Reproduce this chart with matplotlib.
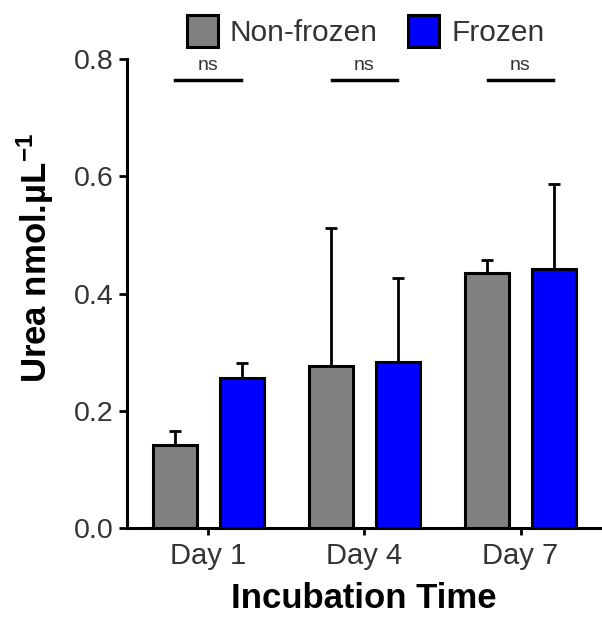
import matplotlib.pyplot as plt
import numpy as np

plt.rcParams['font.family'] = ['Liberation Sans', 'DejaVu Sans']
plt.rcParams['mathtext.default'] = 'regular'

# values
days = ['Day 1', 'Day 4', 'Day 7']
nonfrozen = [0.142, 0.276, 0.435]
nonfrozen_err = [0.024, 0.236, 0.022]
frozen = [0.256, 0.283, 0.442]
frozen_err = [0.026, 0.144, 0.145]
sig_labels = ['ns', 'ns', 'ns']
sig_y = 0.764

x = np.arange(len(days))
w = 0.28
off = 0.215

fig = plt.figure(figsize=(6.02, 6.22), dpi=100)
ax = fig.add_axes([0.211, 0.151, 0.786, 0.754])

b1 = ax.bar(x - off, nonfrozen, w, color='#808080', edgecolor='black', linewidth=2.2,
            label='Non-frozen', zorder=3)
b2 = ax.bar(x + off, frozen, w, color='#0000ff', edgecolor='black', linewidth=2.2,
            label='Frozen', zorder=3)
ax.errorbar(x - off, nonfrozen, yerr=[[0] * 3, nonfrozen_err], fmt='none', ecolor='black',
            elinewidth=2, capsize=4.5, capthick=2, zorder=2)
ax.errorbar(x + off, frozen, yerr=[[0] * 3, frozen_err], fmt='none', ecolor='black',
            elinewidth=2, capsize=4.5, capthick=2, zorder=2)

# significance lines
for xi, lab in zip(x, sig_labels):
    ax.plot([xi - 0.21, xi + 0.21], [sig_y, sig_y], color='black', lw=2.5, clip_on=False)
    ax.text(xi, sig_y + 0.01, lab, ha='center', va='bottom', fontsize=14, color='#333333')

ax.set_xlim(-0.52, 2.51)
ax.set_ylim(0, 0.8)
ax.set_yticks([0.0, 0.2, 0.4, 0.6, 0.8])
ax.set_yticklabels(['0.0', '0.2', '0.4', '0.6', '0.8'])
ax.set_xticks(x)
ax.set_xticklabels(days)
ax.tick_params(axis='y', labelsize=20.5, length=6, width=2, pad=4, labelcolor='#333333')
ax.tick_params(axis='x', labelsize=21, length=5, width=2, pad=5, labelcolor='#333333')

for s in ['top', 'right']:
    ax.spines[s].set_visible(False)
for s in ['left', 'bottom']:
    ax.spines[s].set_linewidth(2.2)

ax.set_ylabel('Urea nmol.µL$^{-1}$', fontsize=25, fontweight='bold')
ax.yaxis.set_label_coords(-0.15, 0.575)
ax.set_xlabel('Incubation Time', fontsize=25, fontweight='bold', labelpad=9)

fig.legend(handles=[b1, b2], labels=['Non-frozen', 'Frozen'], loc='center',
           bbox_to_anchor=(0.607, 0.95), ncol=2, frameon=False, fontsize=21.5,
           handlelength=1.05, handleheight=1.25, handletextpad=0.4, columnspacing=1.0,
           labelcolor='#333333')

fig.savefig('out.png', dpi=100)
